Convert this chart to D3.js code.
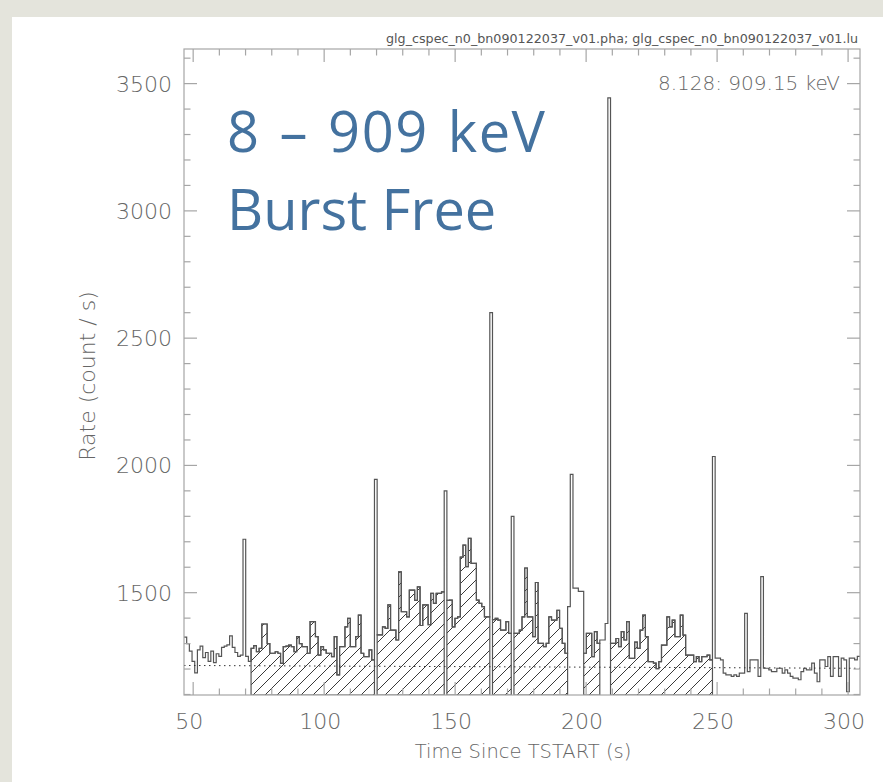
<!DOCTYPE html>
<html>
<head>
<meta charset="utf-8">
<script src="https://cdn.jsdelivr.net/npm/d3@7"></script>
<style>
  html, body { margin: 0; padding: 0; background: #fff; }
  svg { display: block; }
</style>
</head>
<body>
<svg id="chart" width="883" height="782"></svg>
<script>
// Light curve, detector n0, 1.024 s bins starting at t = 46.5 s
const tStart = 46.5;
const binWidth = 1.024;
const rates = [
  // bins 0-24
  1325, 1300, 1270, 1230, 1185, 1275, 1290, 1245, 1265, 1230,
  1270, 1225, 1260, 1250, 1285, 1290, 1295, 1330, 1285, 1265,
  1250, 1255, 1710, 1250, 1230,
  // bins 25-70
  1281, 1292, 1268, 1281, 1377, 1377, 1300, 1262, 1262, 1268,
  1262, 1222, 1288, 1290, 1294, 1288, 1268, 1327, 1300, 1288,
  1288, 1262, 1386, 1386, 1327, 1255, 1288, 1275, 1262, 1262,
  1249, 1327, 1177, 1288, 1288, 1366, 1399, 1288, 1288, 1327,
  1412, 1262, 1249, 1249, 1275, 1236,
  // bin 71
  1945,
  // bins 72-96
  1334, 1334, 1366, 1360, 1452, 1353, 1353, 1314, 1582, 1425,
  1425, 1405, 1510, 1510, 1470, 1523, 1371, 1452, 1452, 1374,
  1497, 1458, 1497, 1497, 1503,
  // bin 97
  1900,
  // bins 98-113
  1470, 1471, 1366, 1399, 1405, 1640, 1687, 1602, 1713, 1615,
  1615, 1471, 1458, 1445, 1405, 1405,
  // bin 114
  2600,
  // bins 115-121
  1394, 1399, 1392, 1353, 1353, 1386, 1340,
  // bin 122
  1800,
  // bins 123-142
  1340, 1340, 1353, 1405, 1597, 1405, 1405, 1327, 1540, 1301,
  1301, 1288, 1301, 1405, 1392, 1392, 1431, 1360, 1301, 1262,
  // bins 143-148
  1445, 1965, 1518, 1518, 1505, 1505,
  // bins 149-154
  1262, 1340, 1340, 1249, 1347, 1301,
  // bins 155-158
  1314, 1314, 1379, 3444,
  // bins 159-196
  1301, 1301, 1320, 1288, 1347, 1314, 1386, 1242, 1242, 1306,
  1281, 1353, 1412, 1327, 1229, 1229, 1223, 1202, 1229, 1294,
  1294, 1405, 1366, 1392, 1327, 1327, 1412, 1333, 1255, 1255,
  1255, 1229, 1249, 1229, 1249, 1249, 1255, 1236,
  // bin 197
  2035,
  // bins 198-251
  1243, 1243, 1236, 1184, 1177, 1177, 1171, 1177, 1171, 1184,
  1184, 1419, 1190, 1236, 1236, 1236, 1171, 1563, 1203, 1203,
  1197, 1190, 1190, 1203, 1203, 1184, 1197, 1184, 1171, 1164,
  1164, 1158, 1190, 1203, 1197, 1197, 1223, 1184, 1150, 1236,
  1236, 1210, 1249, 1171, 1249, 1249, 1171, 1243, 1236, 1111,
  1243, 1243, 1236, 1250
];

// Selected (hatched) time intervals, seconds
const sourceIntervals = [
  [72.10, 119.20], [120.23, 145.83], [146.85, 163.24], [164.26, 171.43],
  [172.45, 192.93], [199.08, 205.22], [209.32, 248.23]
];

// Background model (dotted line)
const bgTimes = [46.5, 304.55];
const bgRates = [1214, 1203];

const xTicks = [50, 100, 150, 200, 250, 300];
const yTicks = [1500, 2000, 2500, 3000, 3500];
const fileLabel = "glg_cspec_n0_bn090122037_v01.pha; glg_cspec_n0_bn090122037_v01.lu";
const energyLabel = "8.128: 909.15 keV";
const noteLines = ["8 \u2013 909 keV", "Burst Free"];
const xTitle = "Time Since TSTART (s)";
const yTitle = "Rate (count / s)";

const svg = d3.select("#chart");
const W = 883, H = 782;

// slide-style backdrop
svg.append("rect").attr("width", W).attr("height", H).attr("fill", "#e4e4dc");
svg.append("rect").attr("x", 12).attr("y", 17).attr("width", W - 12).attr("height", H - 17)
  .attr("fill", "#ffffff");

const plot = { left: 184, right: 860, top: 49, bottom: 695 };
const tEnd = tStart + binWidth * rates.length;

const x = d3.scaleLinear().domain([tStart, tEnd]).range([plot.left, plot.right]);
const y = d3.scaleLinear().domain([1098, 3636]).range([plot.bottom, plot.top]);

const axisColor = "#a6a6a6";
const lineColor = "#555555";
const textColor = "#666666";
const tickFont = "'DejaVu Sans', sans-serif";

// hatch pattern
const defs = svg.append("defs");
const hw = 12;
defs.append("pattern").attr("id", "hatch")
  .attr("patternUnits", "userSpaceOnUse")
  .attr("width", hw).attr("height", hw)
  .append("path")
  .attr("d", `M0,${hw} L${hw},0 M${-hw/4},${hw/4} L${hw/4},${-hw/4} M${hw*3/4},${hw*5/4} L${hw*5/4},${hw*3/4}`)
  .attr("stroke", "#3a3a3a").attr("stroke-width", 1);

defs.append("clipPath").attr("id", "plotClip")
  .append("rect").attr("x", plot.left).attr("y", plot.top)
  .attr("width", plot.right - plot.left).attr("height", plot.bottom - plot.top);

const bins = rates.map((r, i) => ({ t0: tStart + i * binWidth, t1: tStart + (i + 1) * binWidth, r }));

const step = d3.line().x(d => x(d.t)).y(d => y(d.r)).curve(d3.curveStepAfter);
const g = svg.append("g").attr("clip-path", "url(#plotClip)");

// hatched source intervals
sourceIntervals.forEach(([a, e]) => {
  const sel = bins.filter(b => { const c = (b.t0 + b.t1) / 2; return c >= a && c <= e; });
  if (!sel.length) return;
  const base = y.domain()[0];
  const last = sel[sel.length - 1];
  const pts = [{ t: sel[0].t0, r: base }]
    .concat(sel.map(b => ({ t: b.t0, r: b.r })))
    .concat([{ t: last.t1, r: last.r }, { t: last.t1, r: base }]);
  g.append("path").attr("d", step(pts) + "Z")
    .attr("fill", "url(#hatch)")
    .attr("stroke", lineColor).attr("stroke-width", 1.2);
});

// histogram outline
const histPts = bins.map(b => ({ t: b.t0, r: b.r }))
  .concat([{ t: bins[bins.length - 1].t1, r: bins[bins.length - 1].r }]);
g.append("path").attr("d", step(histPts))
  .attr("fill", "none").attr("stroke", lineColor).attr("stroke-width", 1.2);

// background model
g.append("path")
  .attr("d", d3.line().x((d, i) => x(bgTimes[i])).y(d => y(d))(bgRates))
  .attr("fill", "none").attr("stroke", "#333").attr("stroke-width", 1)
  .attr("stroke-dasharray", "1.5,3.5");

// frame
svg.append("rect").attr("x", plot.left).attr("y", plot.top)
  .attr("width", plot.right - plot.left).attr("height", plot.bottom - plot.top)
  .attr("fill", "none").attr("stroke", axisColor).attr("stroke-width", 1.2);

// ticks (inward, on all four sides)
const major = 13, minor = 6.5;
const xMinor = d3.range(50, 305, 10);
const yMinor = d3.range(1100, 3637, 100);
const tg = svg.append("g").attr("stroke", axisColor).attr("stroke-width", 1.2);
xMinor.forEach(v => {
  const len = v % 50 === 0 ? major : minor;
  const px = x(v);
  tg.append("line").attr("x1", px).attr("x2", px).attr("y1", plot.bottom).attr("y2", plot.bottom - len);
  tg.append("line").attr("x1", px).attr("x2", px).attr("y1", plot.top).attr("y2", plot.top + len);
});
yMinor.forEach(v => {
  const len = v % 500 === 0 ? major : minor;
  const py = y(v);
  tg.append("line").attr("y1", py).attr("y2", py).attr("x1", plot.left).attr("x2", plot.left + len);
  tg.append("line").attr("y1", py).attr("y2", py).attr("x1", plot.right).attr("x2", plot.right - len);
});

// tick labels
svg.append("g").selectAll("text").data(xTicks).join("text")
  .attr("x", d => x(d) - 4).attr("y", 729)
  .attr("text-anchor", "middle")
  .attr("font-family", tickFont).attr("font-size", 22).attr("font-weight", 300)
  .attr("fill", textColor).text(d => d);

svg.append("g").selectAll("text").data(yTicks).join("text")
  .attr("x", 172).attr("y", d => y(d) + 8)
  .attr("text-anchor", "end")
  .attr("font-family", tickFont).attr("font-size", 22).attr("font-weight", 300)
  .attr("fill", textColor).text(d => d);

// axis titles
svg.append("text").attr("x", 523).attr("y", 758)
  .attr("text-anchor", "middle")
  .attr("font-family", tickFont).attr("font-size", 19.5).attr("font-weight", 300)
  .attr("fill", textColor).text(xTitle);

svg.append("text")
  .attr("transform", `translate(95,376) rotate(-90)`)
  .attr("text-anchor", "middle")
  .attr("font-family", tickFont).attr("font-size", 22).attr("font-weight", 300)
  .attr("fill", textColor).text(yTitle);

// file name and energy range
svg.append("text").attr("x", 858).attr("y", 43)
  .attr("text-anchor", "end")
  .attr("font-family", tickFont).attr("font-size", 12)
  .attr("textLength", 472).attr("lengthAdjust", "spacingAndGlyphs")
  .attr("fill", "#555").text(fileLabel);

svg.append("text").attr("x", 840).attr("y", 90)
  .attr("text-anchor", "end")
  .attr("font-family", tickFont).attr("font-size", 20).attr("font-weight", 300)
  .attr("fill", textColor).text(energyLabel);

// annotation
svg.append("g").selectAll("text").data(noteLines).join("text")
  .attr("x", 227).attr("y", (d, i) => 152 + i * 78)
  .attr("font-family", "'Open Sans', sans-serif").attr("font-size", 56)
  .attr("word-spacing", (d, i) => i === 0 ? 3 : 0)
  .attr("letter-spacing", (d, i) => i === 0 ? 1.5 : 0)
  .attr("fill", "#44729f").text(d => d);
</script>
</body>
</html>
